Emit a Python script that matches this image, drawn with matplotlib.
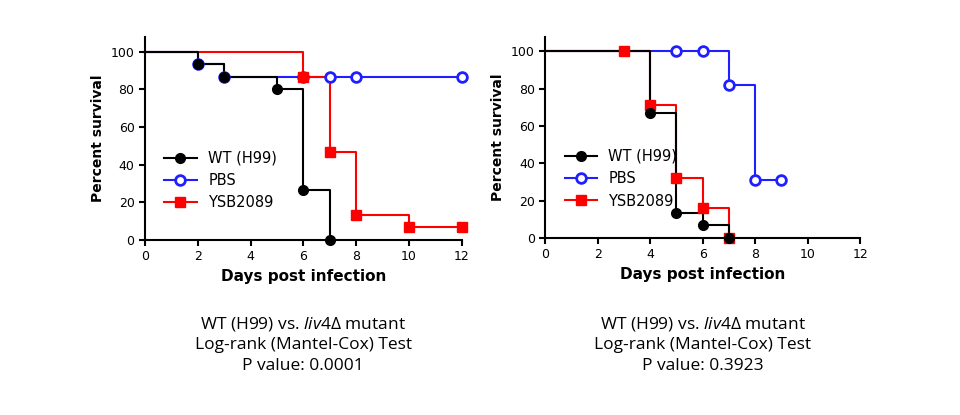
import matplotlib
matplotlib.use("Agg")
import matplotlib.pyplot as plt
plt.rcParams['mathtext.fontset'] = 'custom'
plt.rcParams['mathtext.it'] = 'Open Sans:italic'
plt.rcParams['mathtext.rm'] = 'Open Sans'

# Left panel data (step curves: times, survival)
L_wt_t = [0, 2, 3, 5, 6, 7]; L_wt_s = [100, 93.3, 86.7, 80, 26.7, 0]
L_wt_mt = [2, 3, 5, 6, 7]; L_wt_ms = [93.3, 86.7, 80, 26.7, 0]
L_pbs_t = [0, 2, 3, 12]; L_pbs_s = [100, 93.3, 86.7, 86.7]
L_pbs_mt = [2, 3, 6, 7, 8, 12]; L_pbs_ms = [93.3, 86.7, 86.7, 86.7, 86.7, 86.7]
L_ysb_t = [0, 6, 7, 8, 10, 12]; L_ysb_s = [100, 86.7, 46.7, 13.3, 6.7, 6.7]
L_ysb_mt = [6, 7, 8, 10, 12]; L_ysb_ms = [86.7, 46.7, 13.3, 6.7, 6.7]

# Right panel data
R_wt_t = [0, 4, 5, 6, 7]; R_wt_s = [100, 66.7, 13.3, 6.7, 0]
R_wt_mt = [4, 5, 6, 7]; R_wt_ms = [66.7, 13.3, 6.7, 0]
R_pbs_t = [0, 7, 8, 9]; R_pbs_s = [100, 81.8, 30.8, 30.8]
R_pbs_mt = [5, 6, 7, 8, 9]; R_pbs_ms = [100, 100, 81.8, 30.8, 30.8]
R_ysb_t = [0, 4, 5, 6, 7]; R_ysb_s = [100, 71.4, 32, 16, 0]
R_ysb_mt = [3, 4, 5, 6, 7]; R_ysb_ms = [100, 71.4, 32, 16, 0]

labels = ["WT (H99)", "PBS", "YSB2089"]
colors = ["black", "#1f1fff", "#ff0000"]
xticks = [0, 2, 4, 6, 8, 10, 12]
yticks = [0, 20, 40, 60, 80, 100]
captions = ["WT (H99) vs. $\\it{liv4}$Δ mutant\nLog-rank (Mantel-Cox) Test\nP value: 0.0001",
            "WT (H99) vs. $\\it{liv4}$Δ mutant\nLog-rank (Mantel-Cox) Test\nP value: 0.3923"]

fig = plt.figure(figsize=(9.6, 4.15), dpi=100)
panels = [
    ([0.151, 0.422, 0.330, 0.49], [(L_wt_t, L_wt_s, L_wt_mt, L_wt_ms), (L_pbs_t, L_pbs_s, L_pbs_mt, L_pbs_ms), (L_ysb_t, L_ysb_s, L_ysb_mt, L_ysb_ms)]),
    ([0.568, 0.427, 0.328, 0.485], [(R_wt_t, R_wt_s, R_wt_mt, R_wt_ms), (R_pbs_t, R_pbs_s, R_pbs_mt, R_pbs_ms), (R_ysb_t, R_ysb_s, R_ysb_mt, R_ysb_ms)]),
]
markers = [dict(marker='o', mfc='black'), dict(marker='o', mfc='white', mew=2), dict(marker='s', mfc='red')]
zorders = [5, 3, 4]
for i, (rect, series) in enumerate(panels):
    ax = fig.add_axes(rect)
    for (t, s, mt, ms), lab, c, mk, z in zip(series, labels, colors, markers, zorders):
        ax.step(t, s, where='post', color=c, lw=1.5, zorder=z - 2, clip_on=False)
        ax.plot(mt, ms, ls='none', color=c, ms=7, zorder=z, clip_on=False, **mk)
        ax.plot([], [], color=c, lw=1.5, ms=7, label=lab, **mk)
    ax.set_xlim(0, 12)
    ax.set_ylim(0, 108)
    ax.set_xticks(xticks); ax.set_yticks(yticks)
    ax.spines[['top', 'right']].set_visible(False)
    for sp in ax.spines.values():
        sp.set_linewidth(1.5)
    ax.tick_params(direction='out', width=1.5, length=4, labelsize=9)
    ax.set_xlabel("Days post infection", fontsize=11, fontweight='bold')
    ax.set_ylabel("Percent survival", fontsize=10, fontweight='bold')
    ax.legend(loc='lower left', bbox_to_anchor=(0.02, 0.08), frameon=False, fontsize=10.5,
              handlelength=2.2, labelspacing=0.5)
    cx = rect[0] + rect[2] / 2
    fig.text(cx, 0.10, captions[i], ha='center', va='bottom', fontsize=12.5, linespacing=1.35,
             family='Open Sans')

fig.savefig("out.png", dpi=100)
